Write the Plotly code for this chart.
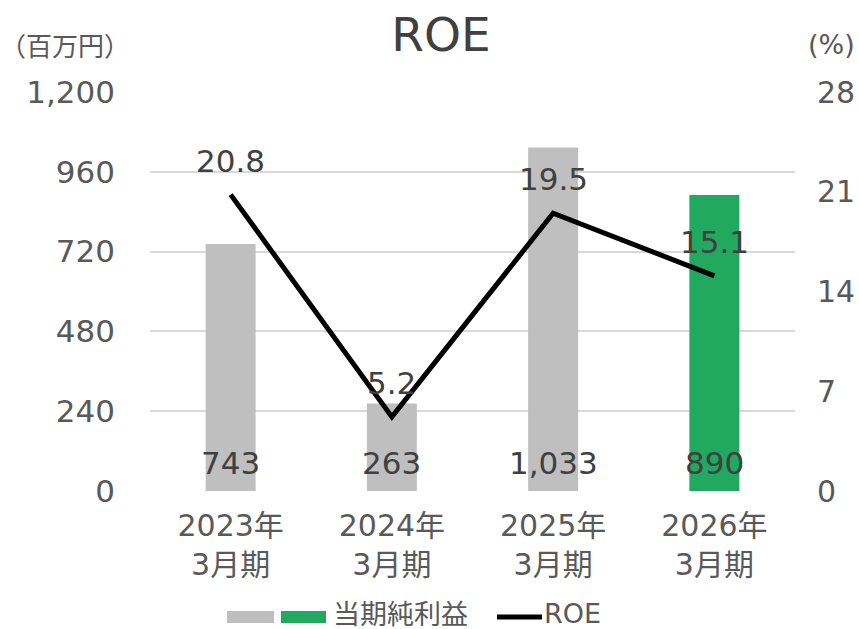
import plotly.graph_objects as go

categories = ["2023年<br>3月期", "2024年<br>3月期", "2025年<br>3月期", "2026年<br>3月期"]
net_income = [743, 263, 1033, 890]
roe = [20.8, 5.2, 19.5, 15.1]
left_ticks = [0, 240, 480, 720, 960, 1200]
right_ticks = [0, 7, 14, 21, 28]

bar_colors = ["#BFBFBF", "#BFBFBF", "#BFBFBF", "#21A95F"]
FONT = "DejaVu Sans, Noto Sans CJK JP"
CJK = "Noto Sans CJK JP"
W, H = 859, 629
L, R, T, B = 150, 64, 92, 138
PW, PH = W - L - R, H - T - B


def px(x):
    return (x - L) / PW


def py(y):
    return (H - B - y) / PH


fig = go.Figure()
fig.add_trace(go.Bar(x=categories, y=net_income, marker=dict(color=bar_colors, line=dict(width=0)),
                     width=0.31, showlegend=False, hoverinfo="skip"))
fig.add_trace(go.Scatter(x=categories, y=roe, yaxis="y2", mode="lines",
                         line=dict(color="#000000", width=5), showlegend=False))

for c, v in zip(categories, net_income):
    fig.add_annotation(x=c, y=0, text=f"{v:,}", showarrow=False, xanchor="center", yanchor="middle",
                       yshift=28, font=dict(family=FONT, size=31, color="#404040"))
for c, v in zip(categories, roe):
    fig.add_annotation(x=c, y=v, yref="y2", text=f"{v}", showarrow=False, xanchor="center",
                       yanchor="middle", yshift=34, font=dict(family=FONT, size=31, color="#404040"))

# axis unit labels
fig.add_annotation(xref="paper", yref="paper", x=px(65), y=py(45), text="（百万円）", showarrow=False,
                   xanchor="center", yanchor="middle", font=dict(family=CJK, size=26, color="#595959"))
fig.add_annotation(xref="paper", yref="paper", x=px(831), y=py(45), text="(%)", showarrow=False,
                   xanchor="center", yanchor="middle", font=dict(family=FONT, size=27, color="#595959"))

# legend (manual)
fig.add_shape(type="rect", xref="paper", yref="paper", x0=px(227), x1=px(274), y0=py(623), y1=py(611),
              fillcolor="#BFBFBF", line=dict(width=0))
fig.add_shape(type="rect", xref="paper", yref="paper", x0=px(281), x1=px(326), y0=py(623), y1=py(611),
              fillcolor="#21A95F", line=dict(width=0))
fig.add_annotation(xref="paper", yref="paper", x=px(331), y=py(612), text="当期純利益", showarrow=False,
                   xanchor="left", yanchor="middle", font=dict(family=CJK, size=27, color="#595959"))
fig.add_shape(type="line", xref="paper", yref="paper", x0=px(497), x1=px(542), y0=py(617), y1=py(617),
              line=dict(color="#000000", width=5))
fig.add_annotation(xref="paper", yref="paper", x=px(542), y=py(613), text="ROE", showarrow=False,
                   xanchor="left", yanchor="middle", font=dict(family=FONT, size=27, color="#595959"))

fig.update_layout(
    width=W, height=H,
    margin=dict(l=L, r=R, t=T, b=B, pad=0, autoexpand=False),
    paper_bgcolor="white", plot_bgcolor="white",
    font=dict(family=FONT, color="#595959"),
    title=dict(text="ROE", x=441 / W, xanchor="center", y=1 - 35 / H, yanchor="middle",
               xref="container", yref="container", automargin=False,
               font=dict(family=FONT, size=47, color="#404040")),
    xaxis=dict(tickfont=dict(size=30, color="#595959"), showgrid=False, showline=False, ticks="",
               zeroline=False, ticklabelstandoff=14, automargin=False),
    yaxis=dict(range=[0, 1200], tickvals=left_ticks, tickformat=",", showgrid=True,
               gridcolor="#D9D9D9", gridwidth=2, zeroline=False, showline=False, ticks="",
               ticklabelstandoff=34, tickfont=dict(size=31, color="#595959"), automargin=False),
    yaxis2=dict(range=[0, 28], tickvals=right_ticks, overlaying="y", side="right", showgrid=False,
                zeroline=False, showline=False, ticks="", ticklabelstandoff=21,
                tickfont=dict(size=30, color="#595959"), automargin=False),
)

fig.write_html("out.html", config={"displayModeBar": False},
               post_script="document.body.style.margin='0';")
